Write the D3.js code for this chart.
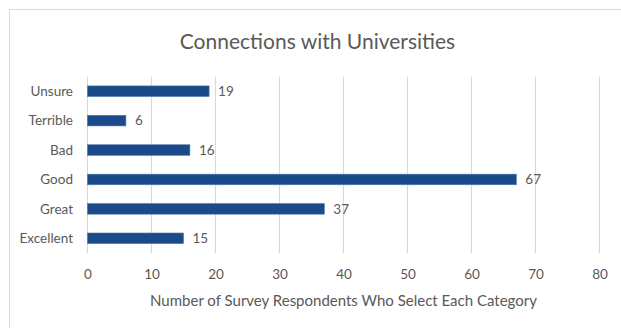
<!DOCTYPE html>
<html>
<head>
<meta charset="utf-8">
<script src="https://cdn.jsdelivr.net/npm/d3@7"></script>
<style>
  html, body { margin: 0; padding: 0; background: #fff; }
  svg { display: block; }
  text { font-family: Lato, "Open Sans", sans-serif; fill: #595959; }
</style>
</head>
<body>
<svg id="chart" width="621" height="328"></svg>
<script>
// Survey answers, listed bottom-to-top as they appear on the chart
const categories = ["Excellent", "Great", "Good", "Bad", "Terrible", "Unsure"];
const counts = [15, 37, 67, 16, 6, 19];
const xTicks = [0, 10, 20, 30, 40, 50, 60, 70, 80];

const chartTitle = "Connections with Universities";
const xAxisTitle = "Number of Survey Respondents Who Select Each Category";

const plot = { left: 87.5, right: 599.5, top: 76.5, bottom: 253 };

const svg = d3.select("#chart");

// Chart frame (extends past the right and bottom edges of the page)
svg.append("rect")
  .attr("x", 9.5).attr("y", 9.5)
  .attr("width", 640).attr("height", 340)
  .attr("fill", "#fff")
  .attr("stroke", "#d9d9d9")
  .attr("stroke-width", 1);

const x = d3.scaleLinear().domain([0, 80]).range([plot.left, plot.right]);
const y = d3.scaleBand()
  .domain(categories.slice().reverse())
  .range([plot.top, plot.bottom])
  .paddingInner(0.64)
  .paddingOuter(0.32);

// Vertical gridlines
svg.append("g")
  .selectAll("line")
  .data(xTicks)
  .join("line")
  .attr("x1", d => x(d)).attr("x2", d => x(d))
  .attr("y1", plot.top).attr("y2", plot.bottom)
  .attr("stroke", "#d9d9d9")
  .attr("stroke-width", 1.2);

// X tick labels
const xAxis = d3.axisBottom(x).tickValues(xTicks).tickSize(0).tickPadding(0);
const gx = svg.append("g")
  .attr("transform", `translate(0,${plot.bottom})`)
  .call(xAxis);
gx.select(".domain").remove();
gx.selectAll("text")
  .attr("y", 21.5)
  .attr("dy", "0.35em")
  .style("font-family", "Lato, 'Open Sans', sans-serif")
  .style("font-size", "13.5px")
  .attr("fill", "#595959");

// Category labels
const yAxis = d3.axisLeft(y).tickSize(0).tickPadding(0);
const gy = svg.append("g")
  .attr("transform", `translate(${plot.left - 14.5},0)`)
  .call(yAxis);
gy.select(".domain").remove();
gy.selectAll("text")
  .attr("dy", "0.35em")
  .style("font-family", "Lato, 'Open Sans', sans-serif")
  .style("font-size", "13.5px")
  .attr("fill", "#595959");

const rows = categories.map((c, i) => ({ cat: c, val: counts[i] }));

// Bars
svg.append("g")
  .selectAll("rect")
  .data(rows)
  .join("rect")
  .attr("x", x(0))
  .attr("y", d => y(d.cat))
  .attr("width", d => x(d.val) - x(0))
  .attr("height", y.bandwidth())
  .attr("fill", "#1b4a8b")
  .attr("stroke", "#4f74a8")
  .attr("stroke-width", 0.6);

// Value labels
svg.append("g")
  .selectAll("text")
  .data(rows)
  .join("text")
  .attr("x", d => x(d.val) + 9)
  .attr("y", d => y(d.cat) + y.bandwidth() / 2)
  .attr("dy", "0.35em")
  .style("font-size", "13.5px")
  .text(d => d.val);

// Titles
svg.append("text")
  .attr("x", 317.5).attr("y", 48.5)
  .attr("text-anchor", "middle")
  .style("font-size", "21px")
  .text(chartTitle);

svg.append("text")
  .attr("x", (plot.left + plot.right) / 2).attr("y", 306)
  .attr("text-anchor", "middle")
  .style("font-size", "15px")
  .text(xAxisTitle);
</script>
</body>
</html>
